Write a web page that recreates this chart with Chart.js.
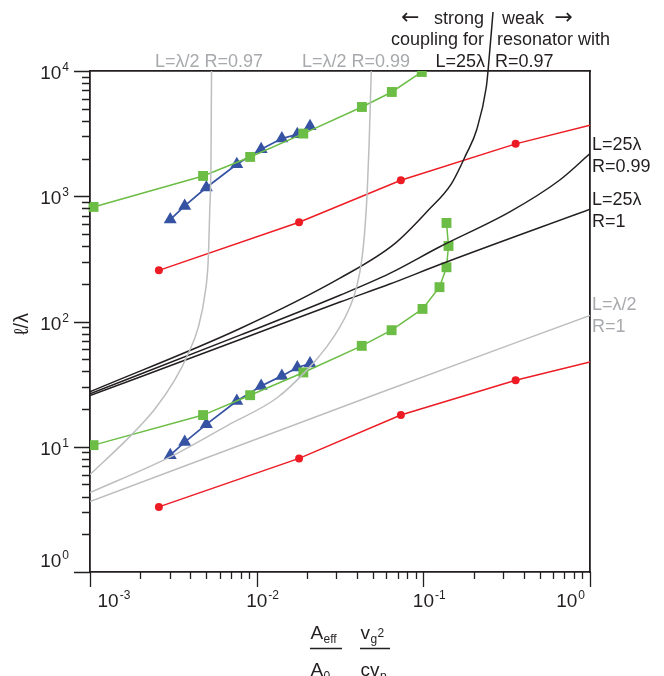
<!DOCTYPE html>
<html>
<head>
<meta charset="utf-8">
<script src="https://cdn.jsdelivr.net/npm/chart.js@4.4.1/dist/chart.umd.min.js"></script>
<style>
  html, body { margin: 0; padding: 0; background: #fff; }
  #chart { display: block; }
</style>
</head>
<body>
<canvas id="chart" width="664" height="676"></canvas>
<script>
  // x = (Aeff/A0)(vg^2/c vp), y = l/lambda

  // measured series (last red entry is the line running on to the frame, no marker)
  const redX = [2.59e-3, 0.01797, 0.0733, 0.358, 1];
  const redHigh = [256, 620, 1342, 2620, 3690];
  const redLow = [3.31, 8.07, 17.9, 34.0, 47.6];
  const redMarkers = 4;

  const greenHighX = [1.05e-3, 4.77e-3, 9.14e-3, 0.01905, 0.0428, 0.0647, 0.0979];
  const greenHigh = [822, 1452, 2060, 3165, 5160, 6800, 9820];
  const greenLowX = [1.05e-3, 4.77e-3, 9.14e-3, 0.01905, 0.0427, 0.0645, 0.0989, 0.125, 0.1377, 0.1416, 0.1377];
  const greenLow = [10.3, 17.9, 25.8, 39.2, 63.9, 85.2, 126, 188, 271, 401, 612];

  const blueX = [3.03e-3, 3.70e-3, 4.99e-3, 7.6e-3, 0.01064, 0.01416, 0.01753, 0.0209];
  const blueHigh = [652, 837, 1174, 1800, 2373, 2886, 3125, 3620];
  const blueLow = [8.57, 10.9, 15.1, 23.2, 30.6, 36.8, 42.9, 46.2];

  // coupling curves, L = 25 lambda (black)
  const l25r1X = [1e-3, 7.96e-3, 0.0316, 0.0629, 0.1256, 1];
  const l25r1Y = [25.6, 71.8, 143, 199, 285, 788];
  const l25r099X = [1e-3, 7.96e-3, 0.0316, 0.0629, 0.1256, 0.330, 0.656, 1];
  const l25r099Y = [26.5, 77.8, 162, 242, 395, 750, 1342, 2192];
  const l25r097X = [1e-3, 7.96e-3, 0.0316, 0.0674, 0.107, 0.1476, 0.1815, 0.2085, 0.2387, 0.2444, 0.2619];
  const l25r097Y = [27.5, 88, 222, 419, 773, 1262, 2190, 3362, 7450, 10000, 29600];

  // coupling curves, L = lambda/2 (gray)
  const lhr1X = [1e-3, 0.055, 1];
  const lhr1Y = [3.65, 27, 112];
  const lhr099X = [1e-3, 3.03e-3, 6.74e-3, 0.01321, 0.0200, 0.0263, 0.0316, 0.0363, 0.0398, 0.0427, 0.0447, 0.0460, 0.0473, 0.0487];
  const lhr099Y = [4.3, 8.3, 14.9, 24.5, 40.9, 62.7, 90.6, 131, 189, 309, 569, 1051, 2634, 10000];
  const lhr097X = [1e-3, 1.78e-3, 2.45e-3, 3.24e-3, 3.89e-3, 4.47e-3, 4.90e-3, 5.12e-3, 5.23e-3, 5.32e-3, 5.36e-3];
  const lhr097Y = [6.0, 12.5, 20.0, 34.5, 55.6, 90.6, 167, 309, 773, 1938, 10000];

  // axis decades
  const xTickExps = [-3, -2, -1, 0];
  const yTickExps = [0, 1, 2, 3, 4];

  const INK = "#231f20";
  const GRAY_LINE = "#bcbec0";
  const GRAY_TEXT = "#a7a9ac";
  const RED = "#ed1c24";
  const GREEN = "#6cbd45";
  const BLUE = "#3653a3";
  const FONT = '"Liberation Sans", Arial, sans-serif';

  const pts = (xs, ys) => xs.map((x, i) => ({ x: x, y: ys[i] }));

  function curve(xs, ys, color, extra) {
    return Object.assign({
      data: pts(xs, ys),
      borderColor: color,
      borderWidth: 1.5,
      pointRadius: 0,
      fill: false,
      cubicInterpolationMode: "monotone",
    }, extra || {});
  }

  function series(xs, ys, color, style, radius, extra) {
    return Object.assign({
      data: pts(xs, ys),
      borderColor: color,
      backgroundColor: color,
      borderWidth: 1.5,
      pointStyle: style,
      pointRadius: radius,
      pointBorderWidth: 0,
      pointBackgroundColor: color,
      tension: 0,
      fill: false,
    }, extra || {});
  }

  const redRadius = (ctx) => (ctx.dataIndex < redMarkers ? 4 : 0);

  // superscript power-of-ten label
  function drawPow(ctx, exp, x, baseline, align) {
    ctx.font = "19px " + FONT;
    const w10 = ctx.measureText("10").width;
    ctx.font = "12px " + FONT;
    const expText = String(exp);
    const wE = ctx.measureText(expText).width;
    const start = align === "right" ? x - (w10 + 1 + wE) : x;
    ctx.textAlign = "left";
    ctx.textBaseline = "alphabetic";
    ctx.font = "19px " + FONT;
    ctx.fillText("10", start, baseline);
    ctx.font = "12px " + FONT;
    ctx.fillText(expText, start + w10 + 1, baseline - 8);
  }

  function text(ctx, str, x, y, color, align, font) {
    ctx.font = font || "18px " + FONT;
    ctx.fillStyle = color;
    ctx.textAlign = align || "left";
    ctx.textBaseline = "alphabetic";
    ctx.fillText(str, x, y);
  }

  const decorations = {
    id: "decorations",
    afterDraw(chart) {
      const { ctx, chartArea: a } = chart;
      const xs = chart.scales.x;
      const ys = chart.scales.y;
      ctx.save();

      // tick marks, pointing out of the frame
      ctx.strokeStyle = INK;
      ctx.lineWidth = 1.3;
      ctx.beginPath();
      xTickExps.forEach((e, i) => {
        for (let m = 1; m <= 9; m++) {
          if (i === xTickExps.length - 1 && m > 1) break;
          const px = Math.round(xs.getPixelForValue(m * Math.pow(10, e))) + 0.5;
          ctx.moveTo(px, a.bottom);
          ctx.lineTo(px, a.bottom + (m === 1 ? 15 : 7));
        }
      });
      yTickExps.forEach((e, i) => {
        for (let m = 1; m <= 9; m++) {
          if (i === yTickExps.length - 1 && m > 1) break;
          const py = Math.round(ys.getPixelForValue(m * Math.pow(10, e))) + 0.5;
          ctx.moveTo(a.left, py);
          ctx.lineTo(a.left - (m === 1 ? 16 : 8), py);
        }
      });
      ctx.stroke();

      // tick labels
      ctx.fillStyle = INK;
      xTickExps.forEach((e, i) => {
        const px = xs.getPixelForValue(Math.pow(10, e));
        if (i === 0) drawPow(ctx, e, px + 7.5, a.bottom + 35, "left");
        else if (i === xTickExps.length - 1) drawPow(ctx, e, px - 5, a.bottom + 35, "right");
        else drawPow(ctx, e, px - 10.5, a.bottom + 35, "left");
      });
      yTickExps.forEach((e) => {
        const py = ys.getPixelForValue(Math.pow(10, e));
        drawPow(ctx, e, 69, e === 0 ? py - 5 : py + 8, "right");
      });

      // y title
      ctx.save();
      ctx.translate(28, 324);
      ctx.rotate(-Math.PI / 2);
      ctx.font = "20px " + FONT;
      ctx.textAlign = "center";
      ctx.fillText("\u2113/\u03bb", 0, 0);
      ctx.restore();

      // x title: (Aeff / A0) (vg^2 / c vp)
      ctx.textAlign = "left";
      ctx.font = "19px " + FONT;
      ctx.fillText("A", 310.5, 638.5);
      ctx.fillText("A", 310.5, 675.5);
      ctx.fillText("v", 360.5, 638.5);
      ctx.fillText("cv", 360.5, 675.5);
      ctx.font = "12px " + FONT;
      ctx.fillText("eff", 323.5, 642.5);
      ctx.fillText("0", 323.5, 679.5);
      ctx.fillText("g", 370.5, 642.5);
      ctx.fillText("2", 377.5, 636.5);
      ctx.fillText("p", 380, 679.5);
      ctx.lineWidth = 1.3;
      ctx.beginPath();
      ctx.moveTo(310, 648.5); ctx.lineTo(342, 648.5);
      ctx.moveTo(360, 648.5); ctx.lineTo(390, 648.5);
      ctx.stroke();

      // curve labels
      const arrowFont = '22px "DejaVu Sans", sans-serif';
      text(ctx, "L=\u03bb/2 R=0.97", 155, 66.5, GRAY_TEXT);
      text(ctx, "L=\u03bb/2 R=0.99", 302, 66.5, GRAY_TEXT);
      text(ctx, "\u2190", 401, 24, INK, "left", arrowFont);
      text(ctx, "strong", 484, 23.5, INK, "right");
      text(ctx, "weak", 502, 23.5, INK);
      text(ctx, "\u2192", 573, 24, INK, "right", arrowFont);
      text(ctx, "coupling for", 484, 44.5, INK, "right");
      text(ctx, "resonator with", 497, 44.5, INK);
      text(ctx, "L=25\u03bb", 485, 66.5, INK, "right");
      text(ctx, "R=0.97", 495, 66.5, INK);
      text(ctx, "L=25\u03bb", 592, 150, INK);
      text(ctx, "R=0.99", 592, 172, INK);
      text(ctx, "L=25\u03bb", 592, 205, INK);
      text(ctx, "R=1", 592, 227, INK);
      text(ctx, "L=\u03bb/2", 592, 310, GRAY_TEXT);
      text(ctx, "R=1", 592, 332, GRAY_TEXT);

      ctx.restore();
    },
  };

  function logAxis(position, min, max, size) {
    return {
      type: "logarithmic",
      position: position,
      min: min,
      max: max,
      grid: { display: false },
      ticks: { display: false },
      border: { display: true, color: INK, width: 1.8 },
      afterFit: (scale) => {
        if (position === "left" || position === "right") scale.width = size;
        else scale.height = size;
      },
    };
  }

  new Chart(document.getElementById("chart"), {
    type: "line",
    data: {
      datasets: [
        curve(lhr1X, lhr1Y, GRAY_LINE),
        curve(lhr099X, lhr099Y, GRAY_LINE),
        curve(lhr097X, lhr097Y, GRAY_LINE),
        curve(l25r1X, l25r1Y, INK),
        curve(l25r099X, l25r099Y, INK),
        curve(l25r097X, l25r097Y, INK, { clip: false }),
        series(redX, redHigh, RED, "circle", redRadius),
        series(redX, redLow, RED, "circle", redRadius),
        series(greenHighX, greenHigh, GREEN, "rect", 7, { clip: { left: 8, top: 0, right: 8, bottom: 8 } }),
        series(greenLowX, greenLow, GREEN, "rect", 7),
        series(blueX, blueHigh, BLUE, "triangle", 7.5, { borderWidth: 1.7 }),
        series(blueX, blueLow, BLUE, "triangle", 7.5, { borderWidth: 1.7 }),
      ],
    },
    options: {
      responsive: false,
      animation: false,
      layout: { padding: 0 },
      plugins: {
        legend: { display: false },
        tooltip: { enabled: false },
      },
      scales: {
        x: logAxis("bottom", 1e-3, 1, 104),
        x2: logAxis("top", 1e-3, 1, 71),
        y: logAxis("left", 1, 1e4, 90),
        y2: logAxis("right", 1, 1e4, 74),
      },
    },
    plugins: [decorations],
  });
</script>
</body>
</html>
